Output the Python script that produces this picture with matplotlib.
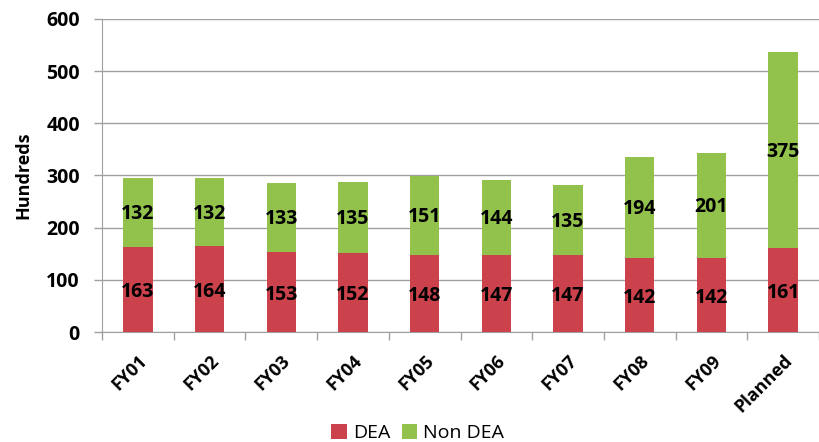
import numpy as np
import matplotlib.pyplot as plt

plt.rcParams['font.family'] = ['Open Sans', 'DejaVu Sans']

# ---------- data ----------
categories = ['FY01', 'FY02', 'FY03', 'FY04', 'FY05', 'FY06', 'FY07', 'FY08', 'FY09', 'Planned']
dea = [163, 164, 153, 152, 148, 147, 147, 142, 142, 161]
non_dea = [132, 132, 133, 135, 151, 144, 135, 194, 201, 375]

red = '#CB414C'
green = '#92C24B'

fig = plt.figure(figsize=(8.19, 4.42), dpi=100)
ax = fig.add_axes([102 / 819, 110 / 442, 717 / 819, 313 / 442])

x = np.arange(len(categories))
w = 0.41
ax.bar(x, dea, w, color=red, label='DEA', zorder=3)
ax.bar(x, non_dea, w, bottom=dea, color=green, label='Non DEA', zorder=3)

# value labels
for i in range(len(categories)):
    ax.text(x[i], dea[i] / 2 - 5, str(dea[i]), ha='center', va='center',
            fontsize=14, fontweight='bold', color='black', zorder=4)
    ax.text(x[i], dea[i] + non_dea[i] / 2 - 3, str(non_dea[i]), ha='center', va='center',
            fontsize=14, fontweight='bold', color='black', zorder=4)

# axes styling
ax.set_ylim(0, 600)
ax.set_xlim(-0.5, -0.5 + 717 / 72.3)
ax.set_yticks(range(0, 601, 100))
ax.tick_params(axis='y', labelsize=14, length=6, pad=10, color='#A0A0A0', width=1)
for lb in ax.get_yticklabels():
    lb.set_fontweight('bold')
ax.yaxis.grid(True, color='#A0A0A0', linewidth=1, zorder=0)

ax.set_xticks(x)
ax.set_xticklabels(categories, rotation=45, ha='right', rotation_mode='anchor',
                   fontsize=13, fontweight='bold')
ax.tick_params(axis='x', length=0, pad=14)
ax.set_xticks(np.arange(-0.5, len(categories), 1), minor=True)
ax.tick_params(axis='x', which='minor', length=6, color='#A0A0A0', width=1)

for s in ['top', 'right']:
    ax.spines[s].set_visible(False)
ax.spines['left'].set_color('#A0A0A0')
ax.spines['bottom'].set_color('#A0A0A0')

ax.set_ylabel('Hundreds', fontsize=13, fontweight='bold', labelpad=10)

fig.legend(loc='lower center', bbox_to_anchor=(0.51, -0.04), ncol=2, frameon=False,
           fontsize=14, handlelength=0.8, handleheight=0.8, handletextpad=0.3,
           columnspacing=0.6)

fig.savefig('out.png', dpi=100)
